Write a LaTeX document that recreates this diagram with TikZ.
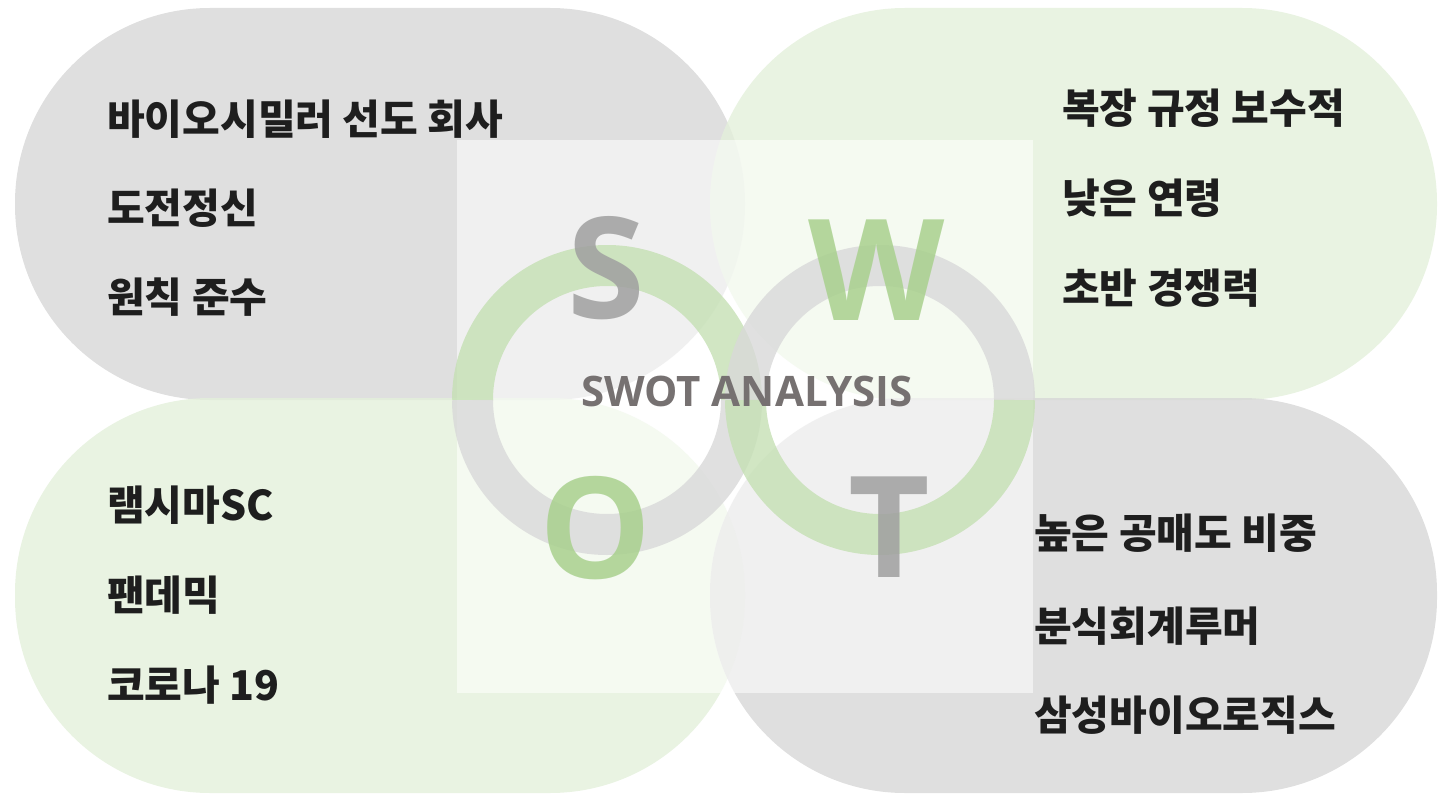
\documentclass[tikz,border=0pt]{standalone}
\usepackage{fontspec}
\setmainfont{Open Sans}
\newfontfamily\krfont{Noto Sans CJK KR}
\definecolor{swotgrey}{RGB}{215,215,215}
\definecolor{swotgreen}{RGB}{228,240,219}
\definecolor{ringgreen}{RGB}{197,224,180}
\definecolor{ringgrey}{RGB}{217,217,217}
\definecolor{lettergrey}{RGB}{160,160,160}
\definecolor{lettergreen}{RGB}{169,209,142}
\definecolor{titlegrey}{RGB}{118,113,113}
\definecolor{itemblack}{RGB}{30,30,30}
\usepackage{tikz}

\begin{document}
\begin{tikzpicture}[x=1pt,y=-1pt]

%
% Styles
%
\tikzstyle{blob}   = [rounded corners=195pt,fill opacity=0.8]
\tikzstyle{ring}   = [line width=41pt,draw opacity=0.8]
\tikzstyle{letter} = [anchor=base,inner sep=0pt,font=\bfseries\fontsize{141}{141}\selectfont,text opacity=0.85]
\tikzstyle{item}   = [anchor=west,inner sep=0pt,text=itemblack,font=\krfont\bfseries\fontsize{41}{41}\selectfont]

\useasboundingbox (0,0) rectangle (1442,794);

% four quadrants
\fill[blob,swotgrey]  (15,8)    rectangle (745,400);
\fill[blob,swotgreen] (710,8)   rectangle (1437,400);
\fill[blob,swotgreen] (15,398)  rectangle (745,793);
\fill[blob,swotgrey]  (710,398) rectangle (1437,793);

% centre panel
\fill[white,fill opacity=0.55] (457,140) rectangle (1033,693);

% rings
\coordinate (lring) at (607,400);
\coordinate (rring) at (880,400);
\draw[ring,ringgreen] ([xshift=-134.5pt]lring) arc[start angle=180,end angle=360,radius=134.5];
\draw[ring,ringgrey]  ([xshift=134.5pt]lring)  arc[start angle=0,end angle=180,radius=134.5];
\draw[ring,ringgrey]  ([xshift=-134.5pt]rring) arc[start angle=180,end angle=360,radius=134.5];
\draw[ring,ringgreen] ([xshift=134.5pt]rring)  arc[start angle=0,end angle=180,radius=134.5];

% letters
\node[letter,text=lettergrey]  (S) at (606,318) {S};
\node[letter,text=lettergreen] (W) at (877,320) {W};
\node[letter,text=lettergreen] (O) at (596,578) {O};
\node[letter,text=lettergrey]  (T) at (889,577) {T};

\node[anchor=base,inner sep=0pt,text=titlegrey,font=\bfseries\fontsize{42}{42}\selectfont] (title) at (747,406) {SWOT ANALYSIS};

% strengths
\node[item] (s1) at (107,119) {바이오시밀러 선도 회사};
\node[item] (s2) at (107,208) {도전정신};
\node[item] (s3) at (107,297) {원칙 준수};

% weaknesses
\node[item] (w1) at (1062,108) {복장 규정 보수적};
\node[item] (w2) at (1062,198) {낮은 연령};
\node[item] (w3) at (1062,288) {초반 경쟁력};

% opportunities
\node[item] (o1) at (107,505) {램시마SC};
\node[item] (o2) at (107,595) {팬데믹};
\node[item] (o3) at (107,685) {코로나 19};

% threats
\node[item] (t1) at (1034,533) {높은 공매도 비중};
\node[item] (t2) at (1034,626) {분식회계루머};
\node[item] (t3) at (1034,715) {삼성바이오로직스};

\end{tikzpicture}
\end{document}
